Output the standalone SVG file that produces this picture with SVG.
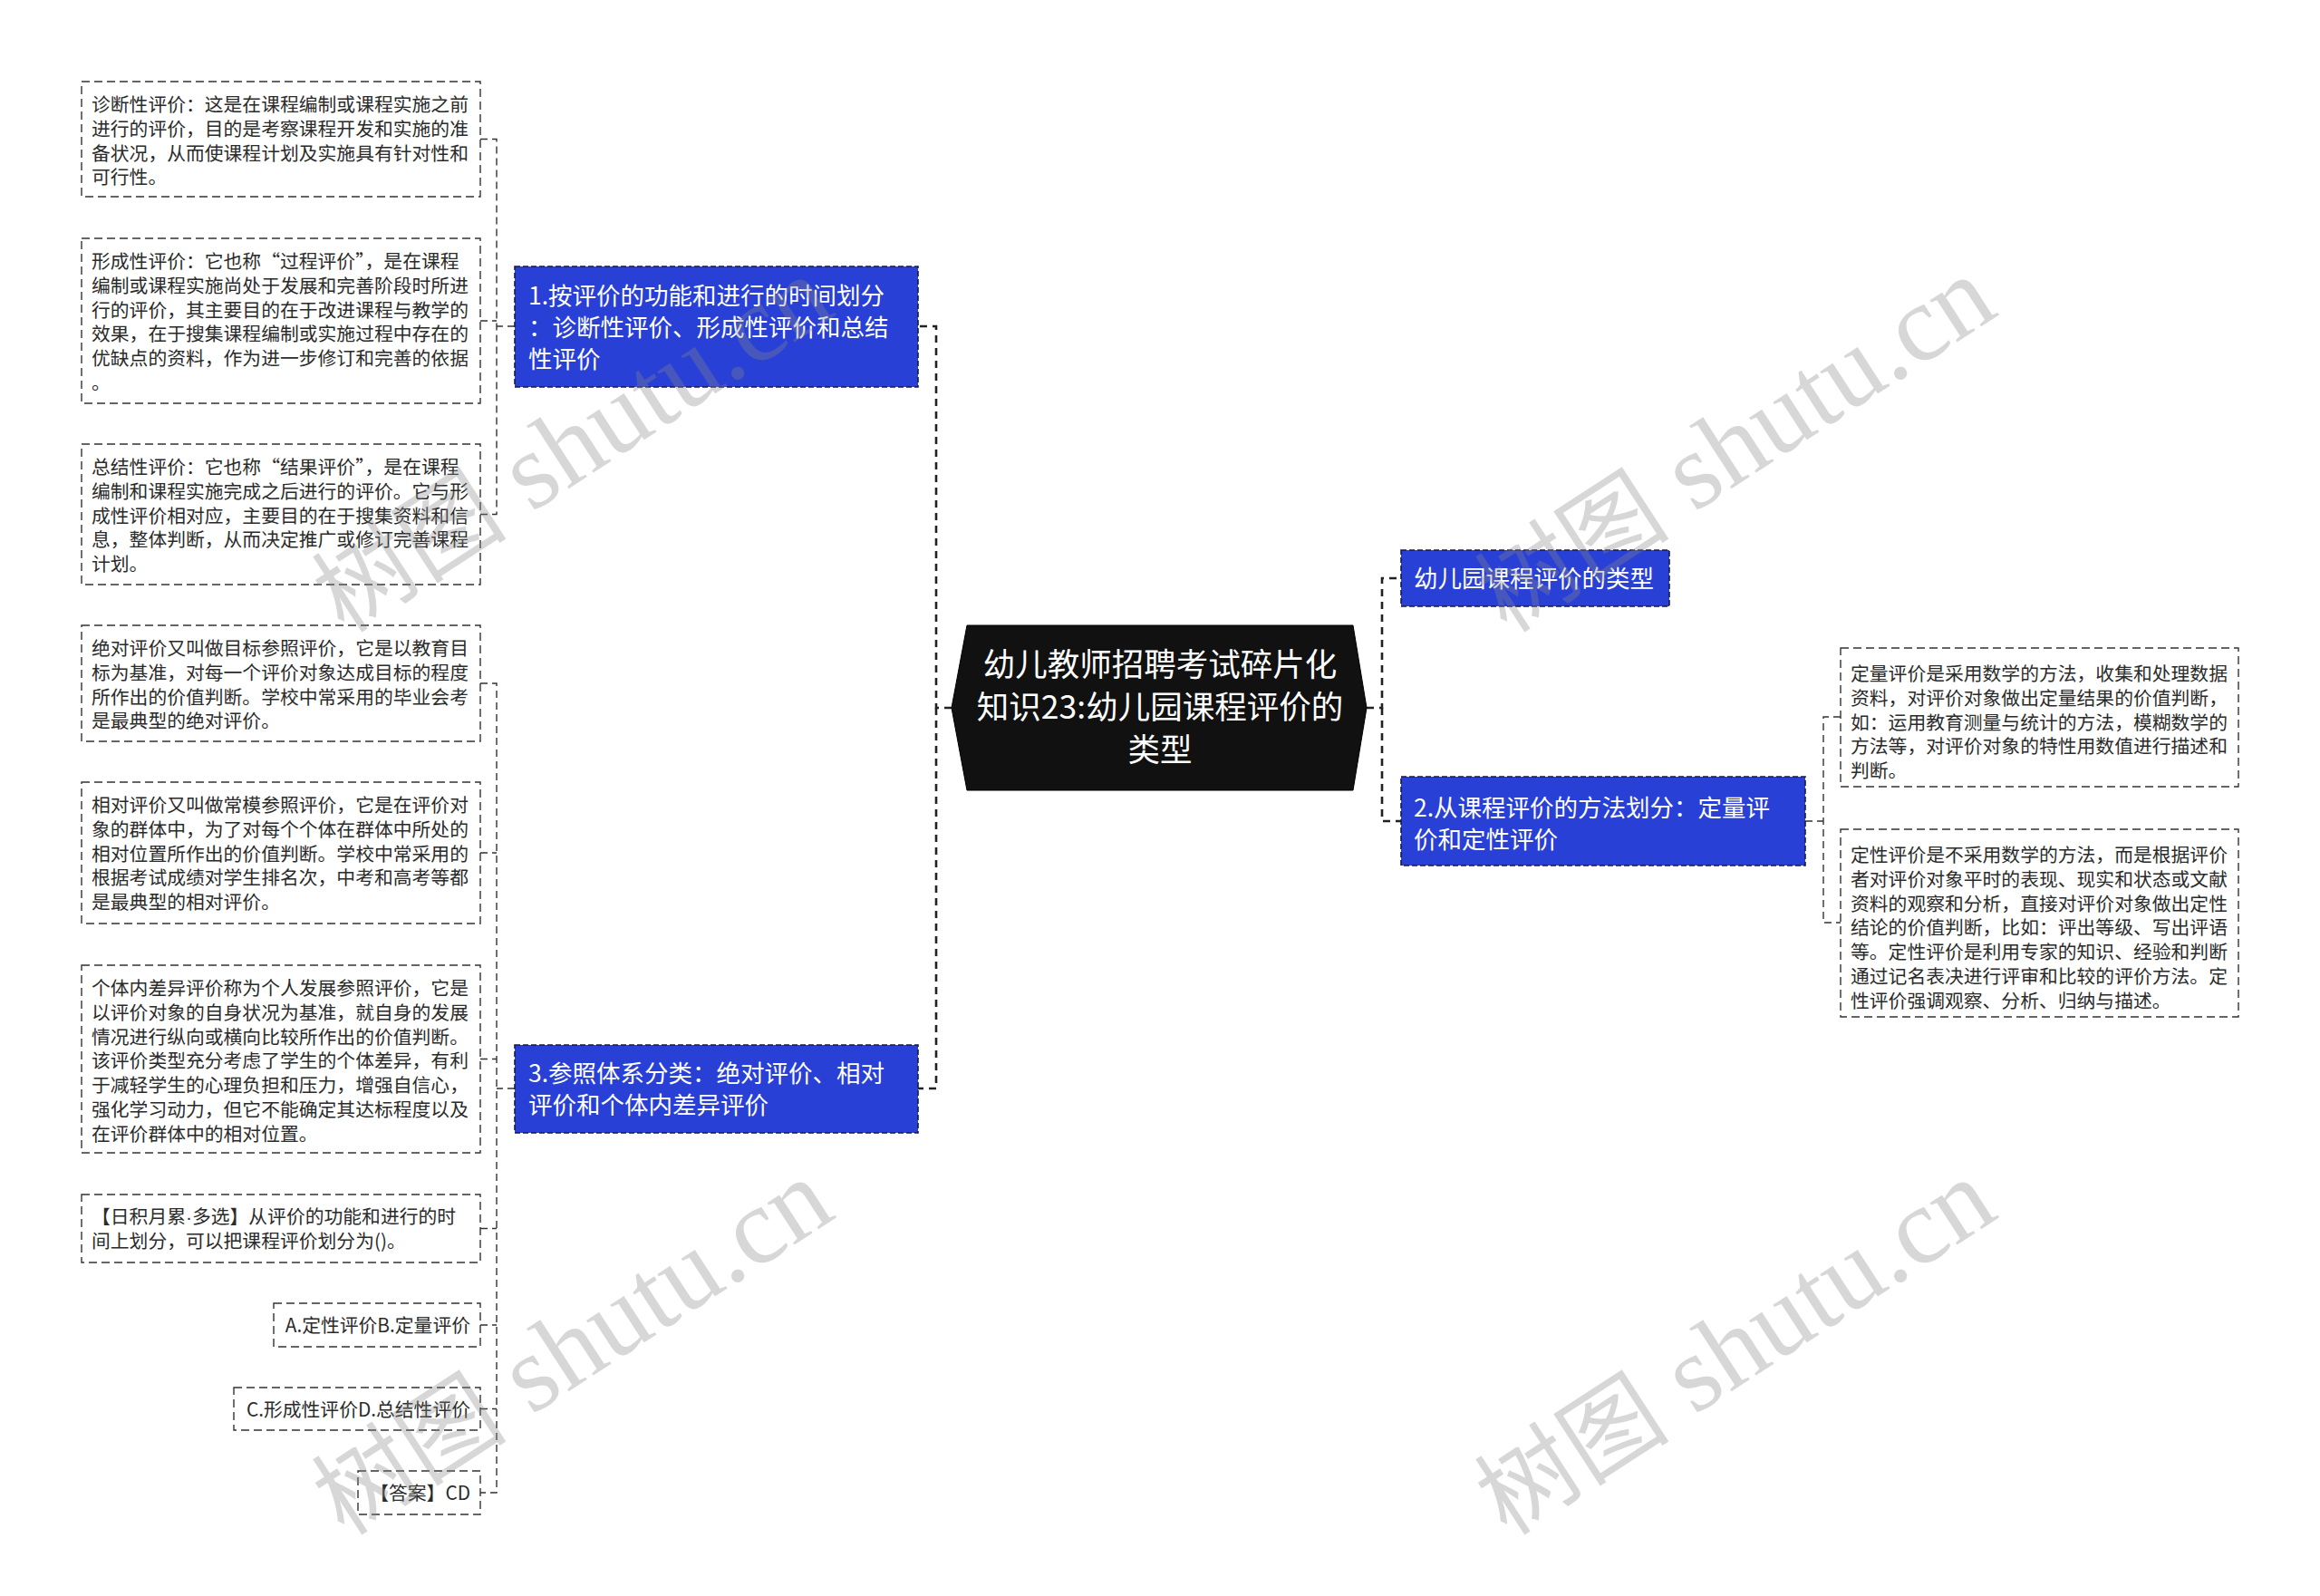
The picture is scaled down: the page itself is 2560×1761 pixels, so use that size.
<svg xmlns="http://www.w3.org/2000/svg" width="2560" height="1761" viewBox="0 0 2560 1761">
<style>
.leaf{fill:#fff;stroke:#333;stroke-width:1.4;stroke-dasharray:9 5}
.lt{font-family:"Noto Sans CJK SC","Microsoft YaHei",sans-serif;font-size:20.8px;fill:#2b2b2b}
.blue{fill:#2940d6;stroke:#1a1a40;stroke-width:1.6;stroke-dasharray:6 3}
.bt{font-family:"Noto Sans CJK SC",sans-serif;font-size:26.5px;fill:#fff}
.ct{font-family:"Noto Sans CJK SC",sans-serif;font-size:35.5px;fill:#fff}
.c1{fill:none;stroke:#333;stroke-width:1.4;stroke-dasharray:8 5}
.c2{fill:none;stroke:#222;stroke-width:2.6;stroke-dasharray:8 6}
.wm{font-family:"Liberation Serif","Noto Sans CJK SC",serif;font-size:120px;fill:#888;opacity:0.33}
.wc{font-size:108px}
</style>
<rect width="2560" height="1761" fill="#fff"/>

<g id="connectors">
<path class="c2" d="M1050,781 H1033 V360 H1013"/>
<path class="c2" d="M1033,781 V1201 H1013"/>
<path class="c2" d="M1508,781 H1525 V638 H1546"/>
<path class="c2" d="M1525,781 V906 H1546"/>
<path class="c1" d="M568,360 H548"/>
<path class="c1" d="M530,153.5 H548 V567.5 H530"/>
<path class="c1" d="M530,354 H548"/>
<path class="c1" d="M568,1201 H548"/>
<path class="c1" d="M530,754 H548 V1647 H530"/>
<path class="c1" d="M530,941 H548"/>
<path class="c1" d="M530,1168.5 H548"/>
<path class="c1" d="M530,1355.5 H548"/>
<path class="c1" d="M530,1462 H548"/>
<path class="c1" d="M530,1554.5 H548"/>
<path class="c1" d="M1992,906 H2012"/>
<path class="c1" d="M2031,791 H2012 V1018 H2031"/>
</g>

<g id="center">
<polygon points="1050,781 1067,690 1493,690 1508,781 1493,872 1067,872" fill="#111" stroke="#000" stroke-width="1"/>
<text class="ct" text-anchor="middle"><tspan x="1280" y="746">幼儿教师招聘考试碎片化</tspan><tspan x="1280" y="793">知识23:幼儿园课程评价的</tspan><tspan x="1280" y="840">类型</tspan></text>
</g>

<g id="node1">
<rect class="blue" x="568" y="294" width="445" height="133"/>
<text class="bt"><tspan x="583" y="336">1.按评价的功能和进行的时间划分</tspan><tspan x="583" y="371">：诊断性评价、形成性评价和总结</tspan><tspan x="583" y="406">性评价</tspan></text>
</g>

<g id="node3">
<rect class="blue" x="568" y="1153" width="445" height="97"/>
<text class="bt"><tspan x="583" y="1194">3.参照体系分类：绝对评价、相对</tspan><tspan x="583" y="1229">评价和个体内差异评价</tspan></text>
</g>

<g id="nodeA">
<rect class="blue" x="1546" y="607" width="296" height="62"/>
<text class="bt" x="1560" y="648">幼儿园课程评价的类型</text>
</g>

<g id="node2">
<rect class="blue" x="1546" y="857" width="446" height="98"/>
<text class="bt"><tspan x="1560" y="901">2.从课程评价的方法划分：定量评</tspan><tspan x="1560" y="936">价和定性评价</tspan></text>
</g>

<g id="leaf1">
<rect class="leaf" x="90" y="90" width="440" height="127"/>
<text class="lt"><tspan x="101" y="123">诊断性评价：这是在课程编制或课程实施之前</tspan><tspan x="101" dy="26.8">进行的评价，目的是考察课程开发和实施的准</tspan><tspan x="101" dy="26.8">备状况，从而使课程计划及实施具有针对性和</tspan><tspan x="101" dy="26.8">可行性。</tspan></text>
</g>

<g id="leaf2">
<rect class="leaf" x="90" y="263" width="440" height="182"/>
<text class="lt"><tspan x="101" y="296">形成性评价：它也称“过程评价”，是在课程</tspan><tspan x="101" dy="26.8">编制或课程实施尚处于发展和完善阶段时所进</tspan><tspan x="101" dy="26.8">行的评价，其主要目的在于改进课程与教学的</tspan><tspan x="101" dy="26.8">效果，在于搜集课程编制或实施过程中存在的</tspan><tspan x="101" dy="26.8">优缺点的资料，作为进一步修订和完善的依据</tspan><tspan x="101" dy="26.8">。</tspan></text>
</g>

<g id="leaf3">
<rect class="leaf" x="90" y="490" width="440" height="155"/>
<text class="lt"><tspan x="101" y="523">总结性评价：它也称“结果评价”，是在课程</tspan><tspan x="101" dy="26.8">编制和课程实施完成之后进行的评价。它与形</tspan><tspan x="101" dy="26.8">成性评价相对应，主要目的在于搜集资料和信</tspan><tspan x="101" dy="26.8">息，整体判断，从而决定推广或修订完善课程</tspan><tspan x="101" dy="26.8">计划。</tspan></text>
</g>

<g id="leaf4">
<rect class="leaf" x="90" y="690" width="440" height="128"/>
<text class="lt"><tspan x="101" y="723">绝对评价又叫做目标参照评价，它是以教育目</tspan><tspan x="101" dy="26.8">标为基准，对每一个评价对象达成目标的程度</tspan><tspan x="101" dy="26.8">所作出的价值判断。学校中常采用的毕业会考</tspan><tspan x="101" dy="26.8">是最典型的绝对评价。</tspan></text>
</g>

<g id="leaf5">
<rect class="leaf" x="90" y="863" width="440" height="156"/>
<text class="lt"><tspan x="101" y="896">相对评价又叫做常模参照评价，它是在评价对</tspan><tspan x="101" dy="26.8">象的群体中，为了对每个个体在群体中所处的</tspan><tspan x="101" dy="26.8">相对位置所作出的价值判断。学校中常采用的</tspan><tspan x="101" dy="26.8">根据考试成绩对学生排名次，中考和高考等都</tspan><tspan x="101" dy="26.8">是最典型的相对评价。</tspan></text>
</g>

<g id="leaf6">
<rect class="leaf" x="90" y="1065" width="440" height="207"/>
<text class="lt"><tspan x="101" y="1098">个体内差异评价称为个人发展参照评价，它是</tspan><tspan x="101" dy="26.8">以评价对象的自身状况为基准，就自身的发展</tspan><tspan x="101" dy="26.8">情况进行纵向或横向比较所作出的价值判断。</tspan><tspan x="101" dy="26.8">该评价类型充分考虑了学生的个体差异，有利</tspan><tspan x="101" dy="26.8">于减轻学生的心理负担和压力，增强自信心，</tspan><tspan x="101" dy="26.8">强化学习动力，但它不能确定其达标程度以及</tspan><tspan x="101" dy="26.8">在评价群体中的相对位置。</tspan></text>
</g>

<g id="leaf7">
<rect class="leaf" x="90" y="1318" width="440" height="75"/>
<text class="lt"><tspan x="101" y="1350">【日积月累</tspan><tspan font-family="Liberation Sans,sans-serif">·</tspan><tspan>多选】从评价的功能和进行的时</tspan><tspan x="101" y="1376.8">间上划分，可以把课程评价划分为()。</tspan></text>
</g>

<g id="leaf8">
<rect class="leaf" x="302" y="1438" width="228" height="48"/>
<text class="lt" x="519" y="1470" text-anchor="end">A.定性评价B.定量评价</text>
</g>

<g id="leaf9">
<rect class="leaf" x="258" y="1531" width="272" height="47"/>
<text class="lt" x="519" y="1562.5" text-anchor="end">C.形成性评价D.总结性评价</text>
</g>

<g id="leaf10">
<rect class="leaf" x="395" y="1623" width="135" height="48"/>
<text class="lt" x="519" y="1655" text-anchor="end">【答案】CD</text>
</g>

<g id="leafR1">
<rect class="leaf" x="2031" y="715" width="439" height="153"/>
<text class="lt"><tspan x="2042" y="751">定量评价是采用数学的方法，收集和处理数据</tspan><tspan x="2042" dy="26.8">资料，对评价对象做出定量结果的价值判断，</tspan><tspan x="2042" dy="26.8">如：运用教育测量与统计的方法，模糊数学的</tspan><tspan x="2042" dy="26.8">方法等，对评价对象的特性用数值进行描述和</tspan><tspan x="2042" dy="26.8">判断。</tspan></text>
</g>

<g id="leafR2">
<rect class="leaf" x="2031" y="915" width="439" height="207"/>
<text class="lt"><tspan x="2042" y="951">定性评价是不采用数学的方法，而是根据评价</tspan><tspan x="2042" dy="26.8">者对评价对象平时的表现、现实和状态或文献</tspan><tspan x="2042" dy="26.8">资料的观察和分析，直接对评价对象做出定性</tspan><tspan x="2042" dy="26.8">结论的价值判断，比如：评出等级、写出评语</tspan><tspan x="2042" dy="26.8">等。定性评价是利用专家的知识、经验和判断</tspan><tspan x="2042" dy="26.8">通过记名表决进行评审和比较的评价方法。定</tspan><tspan x="2042" dy="26.8">性评价强调观察、分析、归纳与描述。</tspan></text>
</g>

<g id="watermarks">
<text class="wm" transform="translate(380,700) rotate(-33)"><tspan class="wc">树图</tspan> shutu.cn</text>
<text class="wm" transform="translate(1663,700) rotate(-33)"><tspan class="wc">树图</tspan> shutu.cn</text>
<text class="wm" transform="translate(380,1696) rotate(-33)"><tspan class="wc">树图</tspan> shutu.cn</text>
<text class="wm" transform="translate(1663,1696) rotate(-33)"><tspan class="wc">树图</tspan> shutu.cn</text>
</g>
</svg>
